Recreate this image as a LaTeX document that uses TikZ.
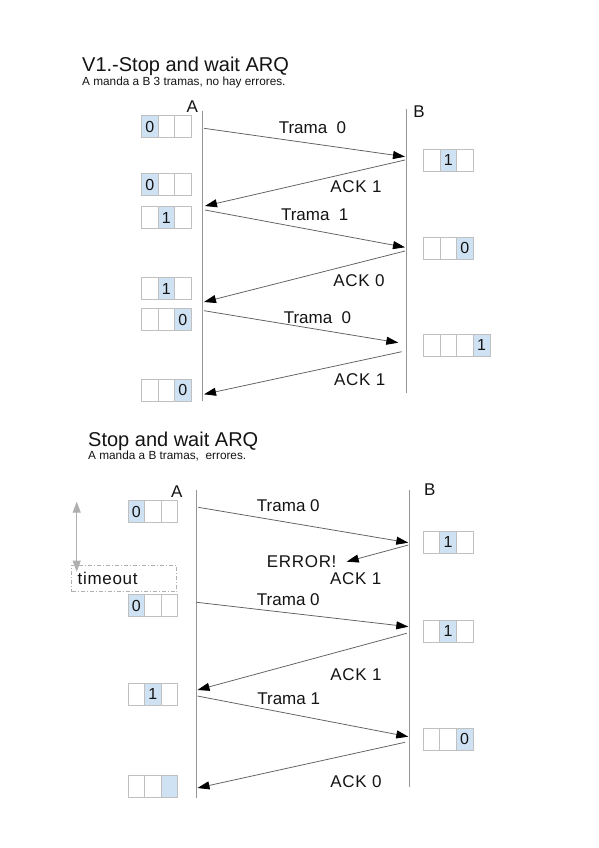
\documentclass[tikz,border=0pt]{standalone}
\usepackage{fontspec}
\setmainfont{Liberation Sans}
\newfontfamily\spacedfont[LetterSpace=4]{Liberation Sans}
\usetikzlibrary{arrows.meta,matrix}
\definecolor{ink}{RGB}{20,20,20}
\definecolor{lifegray}{RGB}{150,150,150}
\definecolor{msggray}{RGB}{95,95,95}
\definecolor{cellgray}{RGB}{192,192,192}
\definecolor{cellblue}{RGB}{207,226,243}
\definecolor{timegray}{RGB}{175,175,175}
\tikzset{
  ventana/.style={matrix of nodes, nodes in empty cells, column sep=-0.8pt,
    nodes={draw=cellgray, line width=0.8pt, minimum width=16.6pt, minimum height=22pt,
      inner sep=0pt, font=\fontsize{16}{19}\selectfont, text=ink, anchor=center}},
  hl/.style={fill=cellblue},
  vida/.style={draw=lifegray, line width=1.1pt},
  msg/.style={draw=msggray, line width=0.75pt,
    -{Triangle[length=12pt, width=8pt, color=black]}},
  etiq/.style={font=\fontsize{17}{20}\selectfont, text=ink, inner sep=0pt},
  ack/.style={font=\spacedfont\fontsize{17}{20}\selectfont, text=ink, inner sep=0pt},
  estacion/.style={font=\fontsize{17}{20}\selectfont, text=ink, inner sep=0pt, anchor=base},
  titulo/.style={font=\fontsize{20}{24}\selectfont, text=ink, inner sep=0pt, anchor=base west},
  subtitulo/.style={font=\fontsize{11.8}{14}\selectfont, text=ink, inner sep=0pt, anchor=base west},
  espera/.style={draw=timegray, line width=1pt,
    {Triangle[length=11pt, width=8pt]}-{Triangle[length=11pt, width=8pt]}},
  tbox/.style={draw=timegray, line width=0.7pt, dash pattern=on 4pt off 2pt on 1pt off 2pt,
    minimum width=105pt, minimum height=26.7pt, inner xsep=6pt, text width=93pt,
    align=left, ack},
}
\begin{document}
\begin{tikzpicture}[x=1pt, y=-1pt]
  \fill[white] (0,0) rectangle (599,848);
  \useasboundingbox (0,0) rectangle (599,848);

  \node[titulo] (tit1) at (82,71.5) {V1.-Stop and wait ARQ};
  \node[subtitulo] (sub1) at (82,85.7) {A manda a B 3 tramas, no hay errores.};

  \node[estacion] (A1) at (192.3,113) {A};
  \node[estacion] (B1) at (419,117.7) {B};
  \coordinate (A1top) at (202.5,111);
  \coordinate (A1bot) at (202.5,401);
  \coordinate (B1top) at (406.5,109);
  \coordinate (B1bot) at (406.5,393);
  \draw[vida] (A1top) -- (A1bot);
  \draw[vida] (B1top) -- (B1bot);

  \matrix (va1) [ventana] at (166.3,126.7) { |[hl]| 0 & & \\ };
  \matrix (va2) [ventana] at (166.3,184.5) { |[hl]| 0 & & \\ };
  \matrix (va3) [ventana] at (166.3,217.5) { & |[hl]| 1 & \\ };
  \matrix (va4) [ventana] at (166.3,288.5) { & |[hl]| 1 & \\ };
  \matrix (va5) [ventana] at (166.3,319.5) { & & |[hl]| 0 \\ };
  \matrix (va6) [ventana] at (166.3,390) { & & |[hl]| 0 \\ };
  \matrix (vb1) [ventana] at (448.2,160) { & |[hl]| 1 & \\ };
  \matrix (vb2) [ventana] at (448.2,248) { & & |[hl]| 0 \\ };
  \matrix (vb3) [ventana] at (456.7,345) { & & & |[hl]| 1 \\ };

  \coordinate (sa1) at (204,128.3);   \coordinate (rb1) at (405,156.7);
  \coordinate (sb2) at (405,160);     \coordinate (ra2) at (205,206);
  \coordinate (sa3) at (205,210);     \coordinate (rb3) at (405,247.3);
  \coordinate (sb4) at (405,251);     \coordinate (ra4) at (204,302);
  \coordinate (sa5) at (204,310.7);   \coordinate (rb5) at (398.3,342.7);
  \coordinate (sb6) at (401.7,351.7); \coordinate (ra6) at (204,394.3);
  \draw[msg] (sa1) -- (rb1);
  \draw[msg] (sb2) -- (ra2);
  \draw[msg] (sa3) -- (rb3);
  \draw[msg] (sb4) -- (ra4);
  \draw[msg] (sa5) -- (rb5);
  \draw[msg] (sb6) -- (ra6);
  \node[etiq] (t1) at (312.5,128) {Trama\ \ 0};
  \node[ack] (k1) at (356,186.3) {ACK 1};
  \node[etiq] (t2) at (314.7,214.5) {Trama\ \ 1};
  \node[ack] (k2) at (359,281) {ACK 0};
  \node[etiq] (t3) at (317.5,317.5) {Trama\ \ 0};
  \node[ack] (k3) at (359.7,379.7) {ACK 1};

  \node[titulo] (tit2) at (88,446) {Stop and wait ARQ};
  \node[subtitulo] (sub2) at (88,459.3) {A manda a B tramas,\ \ errores.};

  \node[estacion] (A2) at (176.7,497) {A};
  \node[estacion] (B2) at (429.8,495) {B};
  \coordinate (A2top) at (196.7,490);
  \coordinate (A2bot) at (196.7,798);
  \coordinate (B2top) at (409.3,490);
  \coordinate (B2bot) at (409.3,787);
  \draw[vida] (A2top) -- (A2bot);
  \draw[vida] (B2top) -- (B2bot);

  \matrix (wa1) [ventana] at (152.8,511.5) { |[hl]| 0 & & \\ };
  \matrix (wa2) [ventana] at (152.8,605.5) { |[hl]| 0 & & \\ };
  \matrix (wa3) [ventana] at (152.8,694) { & |[hl]| 1 & \\ };
  \matrix (wa4) [ventana] at (152.8,786) { & & |[hl]| \\ };
  \matrix (wb1) [ventana] at (448,542) { & |[hl]| 1 & \\ };
  \matrix (wb2) [ventana] at (448,631) { & |[hl]| 1 & \\ };
  \matrix (wb3) [ventana] at (448,739) { & & |[hl]| 0 \\ };

  \coordinate (ua1) at (198.3,507.3); \coordinate (qb1) at (408.3,542.7);
  \coordinate (ub2) at (408.3,545);   \coordinate (qe2) at (346.7,561.7);
  \coordinate (ua3) at (196.7,602.3); \coordinate (qb3) at (408.3,626.7);
  \coordinate (ub4) at (406.7,633.3); \coordinate (qa4) at (197.5,690);
  \coordinate (ua5) at (197.5,696);   \coordinate (qb5) at (408.3,736.7);
  \coordinate (ub6) at (405,742.3);   \coordinate (qa6) at (197.5,788);
  \draw[msg] (ua1) -- (qb1);
  \draw[msg] (ub2) -- (qe2);
  \draw[msg] (ua3) -- (qb3);
  \draw[msg] (ub4) -- (qa4);
  \draw[msg] (ua5) -- (qb5);
  \draw[msg] (ub6) -- (qa6);
  \node[etiq] (u1) at (288.3,505.5) {Trama 0};
  \node[ack] (err) at (301.7,561.7) {ERROR!};
  \node[ack] (j1) at (355.8,578.3) {ACK 1};
  \node[etiq] (u2) at (288.3,600) {Trama 0};
  \node[ack] (j2) at (356,675) {ACK 1};
  \node[etiq] (u3) at (288.7,698.3) {Trama 1};
  \node[ack] (j3) at (356,781.7) {ACK 0};

  \coordinate (tTop) at (76.7,501.7);
  \coordinate (tBot) at (76.7,571.7);
  \draw[espera] (tBot) -- (tTop);
  \node[tbox] (tout) at (124.2,578.3) {timeout};
\end{tikzpicture}
\end{document}
